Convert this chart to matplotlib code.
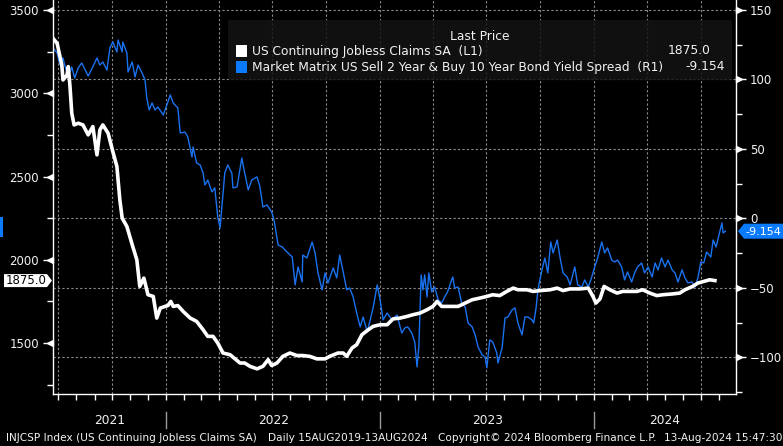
import matplotlib
matplotlib.use("Agg")
import matplotlib.pyplot as plt
import matplotlib.dates as mdates
import matplotlib.transforms as mtransforms
from matplotlib.patches import Polygon, Rectangle, FancyBboxPatch
import pandas as pd

# US continuing jobless claims SA (thousands), left axis
claims_dates = [
    "2021-06-22", "2021-06-29", "2021-07-07", "2021-07-09", "2021-07-16", "2021-07-18",
    "2021-07-21", "2021-07-24", "2021-07-28", "2021-08-04", "2021-08-12", "2021-08-21",
    "2021-08-29", "2021-09-05", "2021-09-10", "2021-09-15", "2021-09-24", "2021-10-02",
    "2021-10-09", "2021-10-14", "2021-10-18", "2021-10-26", "2021-11-05", "2021-11-12",
    "2021-11-17", "2021-11-24", "2021-12-01", "2021-12-10", "2021-12-16", "2021-12-22",
    "2021-12-30", "2022-01-04", "2022-01-09", "2022-01-13", "2022-01-21", "2022-01-30",
    "2022-02-11", "2022-02-22", "2022-03-05", "2022-03-13", "2022-03-22", "2022-03-30",
    "2022-04-08", "2022-04-20", "2022-05-07", "2022-05-15", "2022-05-24", "2022-06-05",
    "2022-06-15", "2022-06-24", "2022-06-30", "2022-07-09", "2022-07-19", "2022-07-31",
    "2022-08-12", "2022-08-22", "2022-09-03", "2022-09-15", "2022-09-29", "2022-10-07",
    "2022-10-21", "2022-10-30", "2022-11-05", "2022-11-14", "2022-11-22", "2022-12-01",
    "2022-12-10", "2022-12-20", "2023-01-01", "2023-01-13", "2023-01-23", "2023-02-04",
    "2023-02-16", "2023-02-26", "2023-03-10", "2023-03-22", "2023-04-01", "2023-04-08",
    "2023-04-16", "2023-04-25", "2023-05-14", "2023-05-26", "2023-06-07", "2023-06-20",
    "2023-07-02", "2023-07-12", "2023-07-24", "2023-08-05", "2023-08-16", "2023-08-24",
    "2023-09-08", "2023-09-19", "2023-10-01", "2023-10-18", "2023-10-30", "2023-11-09",
    "2023-11-21", "2023-12-08", "2023-12-22", "2023-12-30", "2024-01-04", "2024-01-11",
    "2024-01-18", "2024-01-28", "2024-02-09", "2024-02-19", "2024-03-02", "2024-03-14",
    "2024-03-24", "2024-04-05", "2024-04-17", "2024-04-27", "2024-05-14", "2024-05-26",
    "2024-06-04", "2024-06-17", "2024-06-26", "2024-07-04", "2024-07-16", "2024-07-25",
]
claims_values = [
    3330, 3300, 3170, 3080, 3110, 3160,
    3040, 2880, 2810, 2820, 2810, 2750,
    2800, 2630, 2780, 2810, 2760, 2650,
    2560, 2360, 2250, 2200, 2080, 2000,
    1840, 1890, 1790, 1780, 1650, 1710,
    1720, 1725, 1750, 1720, 1725, 1690,
    1650, 1630, 1580, 1540, 1540, 1500,
    1440, 1430, 1380, 1380, 1360, 1345,
    1360, 1400, 1365, 1380, 1420, 1440,
    1425, 1425, 1420, 1405, 1405, 1420,
    1440, 1440, 1420, 1470, 1490, 1550,
    1575, 1600, 1610, 1610, 1645, 1650,
    1660, 1670, 1680, 1700, 1720, 1750,
    1720, 1720, 1720, 1740, 1760, 1770,
    1780, 1790, 1785, 1810, 1830, 1820,
    1820, 1810, 1815, 1820, 1830, 1815,
    1825, 1825, 1830, 1780, 1740, 1765,
    1840, 1820, 1800, 1810, 1810, 1810,
    1820, 1800, 1785, 1790, 1795, 1800,
    1820, 1840, 1860, 1868, 1880, 1875.0,
]

# 2y/10y yield spread (bp), right axis
spread_dates = [
    "2021-06-22", "2021-06-29", "2021-07-04", "2021-07-09", "2021-07-12", "2021-07-18",
    "2021-07-24", "2021-07-29", "2021-08-04", "2021-08-10", "2021-08-16", "2021-08-21",
    "2021-08-28", "2021-09-05", "2021-09-10", "2021-09-15", "2021-09-22", "2021-09-27",
    "2021-10-02", "2021-10-09", "2021-10-11", "2021-10-18", "2021-10-19", "2021-10-26",
    "2021-10-28", "2021-11-04", "2021-11-09", "2021-11-14", "2021-11-21", "2021-11-26",
    "2021-11-29", "2021-12-03", "2021-12-08", "2021-12-13", "2021-12-18", "2021-12-27",
    "2022-01-04", "2022-01-08", "2022-01-13", "2022-01-21", "2022-01-25", "2022-02-02",
    "2022-02-07", "2022-02-14", "2022-02-16", "2022-02-22", "2022-02-28", "2022-03-05",
    "2022-03-08", "2022-03-13", "2022-03-20", "2022-03-25", "2022-03-30", "2022-04-03",
    "2022-04-11", "2022-04-16", "2022-04-23", "2022-04-25", "2022-05-02", "2022-05-10",
    "2022-05-15", "2022-05-21", "2022-05-27", "2022-06-05", "2022-06-10", "2022-06-15",
    "2022-06-22", "2022-06-30", "2022-07-04", "2022-07-11", "2022-07-18", "2022-07-26",
    "2022-08-04", "2022-08-09", "2022-08-14", "2022-08-21", "2022-08-22", "2022-08-29",
    "2022-09-07", "2022-09-12", "2022-09-17", "2022-09-24", "2022-09-29", "2022-10-04",
    "2022-10-13", "2022-10-19", "2022-10-24", "2022-10-30", "2022-11-05", "2022-11-10",
    "2022-11-16", "2022-11-22", "2022-11-28", "2022-12-03", "2022-12-10", "2022-12-15",
    "2022-12-20", "2022-12-27", "2023-01-01", "2023-01-06", "2023-01-13", "2023-01-21",
    "2023-01-30", "2023-02-04", "2023-02-07", "2023-02-12", "2023-02-17", "2023-02-24",
    "2023-03-01", "2023-03-05", "2023-03-08", "2023-03-12", "2023-03-15", "2023-03-18",
    "2023-03-22", "2023-03-25", "2023-03-30", "2023-04-04", "2023-04-10", "2023-04-16",
    "2023-04-21", "2023-04-26", "2023-05-03", "2023-05-05", "2023-05-08", "2023-05-14",
    "2023-05-20", "2023-05-26", "2023-05-31", "2023-06-07", "2023-06-12", "2023-06-17",
    "2023-06-24", "2023-06-29", "2023-07-02", "2023-07-07", "2023-07-12", "2023-07-19",
    "2023-07-21", "2023-07-28", "2023-08-02", "2023-08-07", "2023-08-14", "2023-08-19",
    "2023-08-24", "2023-08-31", "2023-09-05", "2023-09-10", "2023-09-17", "2023-09-20",
    "2023-09-24", "2023-09-27", "2023-10-04", "2023-10-09", "2023-10-14", "2023-10-19",
    "2023-10-23", "2023-10-30", "2023-11-04", "2023-11-09", "2023-11-16", "2023-11-21",
    "2023-11-29", "2023-12-04", "2023-12-11", "2023-12-16", "2023-12-22", "2023-12-28",
    "2024-01-02", "2024-01-07", "2024-01-14", "2024-01-19", "2024-01-24", "2024-01-31",
    "2024-02-05", "2024-02-10", "2024-02-17", "2024-02-22", "2024-02-27", "2024-03-05",
    "2024-03-10", "2024-03-15", "2024-03-22", "2024-03-27", "2024-04-02", "2024-04-09",
    "2024-04-14", "2024-04-19", "2024-04-25", "2024-05-01", "2024-05-06", "2024-05-13",
    "2024-05-18", "2024-05-23", "2024-05-30", "2024-06-04", "2024-06-09", "2024-06-16",
    "2024-06-21", "2024-06-26", "2024-07-01", "2024-07-06", "2024-07-11", "2024-07-18",
    "2024-07-22", "2024-07-27", "2024-08-01", "2024-08-06", "2024-08-08", "2024-08-12",
]
spread_values = [
    122.7, 119.1, 110.4, 115.5, 110.4, 101.8,
    109.0, 101.1, 108.3, 111.9, 106.8, 102.5,
    108.3, 115.5, 110.4, 112.6, 106.8, 122.7,
    127.0, 119.8, 128.4, 119.8, 127.0, 119.1,
    105.4, 112.6, 101.8, 110.4, 104.7, 99.6,
    86.7, 78.1, 83.1, 78.1, 80.2, 74.5,
    83.8, 88.9, 83.1, 79.5, 61.5, 62.2,
    58.6, 44.2, 51.4, 39.9, 38.5, 32.7,
    24.1, 27.7, 19.1, 22.0, 1.1, -6.8,
    32.7, 38.5, 32.7, 22.0, 22.7, 43.5,
    32.7, 20.5, 27.7, 29.9, 22.7, 8.3,
    9.7, 4.7, -1.1, -19.1, -20.5, -24.1,
    -27.7, -47.8, -34.9, -45.7, -26.3, -28.4,
    -16.9, -24.8, -39.2, -51.4, -39.2, -46.4,
    -35.6, -42.8, -26.3, -38.5, -51.4, -50.0,
    -56.5, -68.0, -78.0, -70.9, -81.6, -73.0,
    -64.4, -47.8, -58.6, -73.0, -68.0, -73.0,
    -69.4, -78.0, -82.4, -78.8, -78.0, -82.4,
    -88.8, -106.8, -92.4, -40.6, -51.4, -40.6,
    -56.5, -39.2, -52.9, -49.3, -58.6, -60.8,
    -56.5, -52.9, -44.2, -42.1, -50.0, -49.3,
    -60.8, -63.7, -75.2, -78.0, -83.8, -92.4,
    -98.2, -99.6, -107.5, -87.4, -88.8, -96.8,
    -104.0, -93.2, -71.6, -70.9, -65.8, -64.4,
    -75.2, -83.8, -70.9, -70.9, -73.0, -75.2,
    -64.4, -51.4, -37.0, -28.4, -39.2, -16.9,
    -24.8, -15.5, -28.4, -39.2, -42.1, -47.8,
    -34.9, -47.8, -49.3, -44.2, -49.3, -42.1,
    -34.9, -28.4, -16.9, -24.8, -21.2, -29.9,
    -31.3, -29.9, -34.9, -44.2, -38.5, -45.7,
    -39.2, -34.9, -32.0, -39.2, -34.9, -42.1,
    -32.0, -37.0, -28.4, -34.9, -29.9, -37.0,
    -39.2, -45.7, -37.0, -42.8, -46.4, -45.7,
    -49.3, -42.8, -31.3, -32.0, -24.1, -27.7,
    -15.5, -20.5, -11.9, -3.2, -10.4, -9.154,
]

left_major = [1500, 2000, 2500, 3000, 3500]
left_minor = [1250, 1750, 2250, 2750, 3250]
right_major = [-100, -50, 0, 50, 100, 150]
right_minor = [-125, -75, -25, 25, 75, 125]
years = [2021, 2022, 2023, 2024]

claims_label = "US Continuing Jobless Claims SA  (L1)"
spread_label = "Market Matrix US Sell 2 Year & Buy 10 Year Bond Yield Spread  (R1)"

W, H = 783, 446
BLUE = "#1a72f0"
TAG_BLUE = "#0a7bff"
TXT = "#f2f2f2"
GRID = "#8c8c8c"
FS = 8.5      # ticks / years
FS_LEG = 8.8  # legend rows
FS_FOOT = 7.6  # footer line


def fx(px):
    return px / W


def fy(py):
    return 1 - py / H


fig = plt.figure(figsize=(W / 100, H / 100), dpi=100, facecolor="black")
ax = fig.add_axes([fx(53), fy(394), fx(683), 394 / H])
ax2 = ax.twinx()
ax.set_zorder(3)
ax.patch.set_visible(False)

claims_dt = pd.to_datetime(claims_dates)
spread_dt = pd.to_datetime(spread_dates)

x0, x1 = pd.Timestamp("2021-06-22"), pd.Timestamp("2024-08-30")
ax.set_xlim(x0, x1)
ax.set_ylim(1194, 3560)
ax2.set_ylim(-126.3, 157.2)

# grid (on the back axes so both lines sit on top)
ax2.set_yticks(right_major)
ax2.set_yticks(right_minor, minor=True)
ax2.grid(axis="y", which="major", color=GRID, linestyle=(0, (2, 2)), lw=0.8)
for d in pd.date_range("2021-07-01", "2024-07-01", freq="QS"):
    ax2.axvline(d, color=GRID, linestyle=(0, (2, 2)), lw=0.8, zorder=0.5)

ax2.plot(spread_dt, spread_values, color=BLUE, lw=1.0, zorder=2)
ax.plot(claims_dt, claims_values, color="white", lw=2.6, solid_joinstyle="round", zorder=3)

# spines
for s in ["top", "right"]:
    ax.spines[s].set_visible(False)
for s in ["top", "left", "bottom"]:
    ax2.spines[s].set_visible(False)
for sp in [ax.spines["left"], ax.spines["bottom"], ax2.spines["right"]]:
    sp.set_color("white")
    sp.set_linewidth(1.0)

# y ticks
ax.set_yticks(left_major)
ax.set_yticks(left_minor, minor=True)
ax.tick_params(axis="y", which="major", length=7, width=1, color="white",
               labelcolor=TXT, labelsize=FS, pad=3)
ax.tick_params(axis="y", which="minor", length=4, width=1, color="white")
ax2.tick_params(axis="y", which="major", length=7, width=1, color="white",
                labelcolor=TXT, labelsize=FS, pad=3)
ax2.tick_params(axis="y", which="minor", length=4, width=1, color="white")

# little triangles on the major ticks
tl = mtransforms.blended_transform_factory(ax.transAxes, ax.transData) + \
    mtransforms.ScaledTranslation(-3 / 100, 0, fig.dpi_scale_trans)
ax.plot([0] * len(left_major), left_major, linestyle="none", marker="<", ms=4.5,
        color="white", transform=tl, clip_on=False)
tr = mtransforms.blended_transform_factory(ax2.transAxes, ax2.transData) + \
    mtransforms.ScaledTranslation(3 / 100, 0, fig.dpi_scale_trans)
ax2.plot([1] * len(right_major), right_major, linestyle="none", marker=">", ms=4.5,
         color="white", transform=tr, clip_on=False)

# x axis: monthly ticks, year labels below
ax.xaxis.set_major_locator(mdates.MonthLocator())
ax.tick_params(axis="x", which="major", length=4, width=1, color="white", labelbottom=False)
ax2.tick_params(axis="x", which="both", length=0, labelbottom=False)

bt = mtransforms.blended_transform_factory(ax.transData, ax.transAxes)
for yr in years:
    a = max(x0, pd.Timestamp(f"{yr}-01-01"))
    b = min(x1, pd.Timestamp(f"{yr + 1}-01-01"))
    mid = a + (b - a) / 2
    ax.text(mid, -27 / 394, str(yr), transform=bt, ha="center", va="center",
            color=TXT, fontsize=FS + 0.3)
    if yr > years[0]:
        d = pd.Timestamp(f"{yr}-01-01")
        ax.plot([d, d], [-18 / 394, -34 / 394], transform=bt, color="#9a9a9a",
                lw=1, clip_on=False)

# legend box
fig.add_artist(FancyBboxPatch((fx(228), fy(80)), fx(504), 60 / H,
                              boxstyle="round,pad=0,rounding_size=0.004",
                              transform=fig.transFigure, fc="#141414", ec="none",
                              alpha=0.85, zorder=10))
fig.text(fx(480), fy(36), "Last Price", ha="center", va="center", color=TXT,
         fontsize=FS_LEG, zorder=11)
fig.add_artist(Rectangle((fx(236), fy(57)), fx(11), 12 / H, transform=fig.transFigure,
                         fc="white", ec="none", zorder=11))
fig.add_artist(Rectangle((fx(236), fy(73)), fx(11), 12 / H, transform=fig.transFigure,
                         fc=TAG_BLUE, ec="none", zorder=11))
fig.text(fx(252), fy(51), claims_label, ha="left", va="center", color=TXT,
         fontsize=FS_LEG, zorder=11)
fig.text(fx(252), fy(67), spread_label, ha="left", va="center", color=TXT,
         fontsize=FS_LEG, zorder=11)
fig.text(fx(711), fy(51), f"{claims_values[-1]:.1f}", ha="right", va="center",
         color=TXT, fontsize=FS_LEG, zorder=11)
fig.text(fx(725), fy(67), f"{spread_values[-1]:.3f}", ha="right", va="center",
         color=TXT, fontsize=FS_LEG, zorder=11)

# last value tags at the axes
ident = mtransforms.IdentityTransform()
yl = ax.transData.transform((0, claims_values[-1]))[1]
fig.add_artist(Polygon([(4, yl - 6.5), (47, yl - 6.5), (52, yl), (47, yl + 6.5), (4, yl + 6.5)],
                       closed=True, fc="white", ec="none", transform=ident, zorder=12))
fig.text(fx(26), yl / H, f"{claims_values[-1]:.1f}", ha="center", va="center",
         color="black", fontsize=FS, zorder=13)

yr_ = ax2.transData.transform((0, spread_values[-1]))[1]
fig.add_artist(Polygon([(738, yr_), (744, yr_ - 7.5), (W, yr_ - 7.5), (W, yr_ + 7.5), (744, yr_ + 7.5)],
                       closed=True, fc=TAG_BLUE, ec="none", transform=ident, zorder=12))
fig.text(fx(745), (yr_ - 1) / H, f"{spread_values[-1]:.3f}", ha="left", va="center",
         color="white", fontsize=8, zorder=13)
fig.add_artist(Rectangle((0, yr_ - 6), 3, 20, fc=TAG_BLUE, ec="none",
                         transform=ident, zorder=12))

# footer
fig.text(fx(6), fy(438), "INJCSP Index (US Continuing Jobless Claims SA)", ha="left",
         va="center", color=TXT, fontsize=FS_FOOT)
fig.text(fx(268), fy(438), "Daily 15AUG2019-13AUG2024", ha="left", va="center",
         color=TXT, fontsize=FS_FOOT)
fig.text(fx(438), fy(438), "Copyright\u00a9 2024 Bloomberg Finance L.P.", ha="left",
         va="center", color=TXT, fontsize=FS_FOOT)
fig.text(fx(782), fy(438), "13-Aug-2024 15:47:30", ha="right", va="center",
         color=TXT, fontsize=FS_FOOT)

fig.savefig("out.png", dpi=100, facecolor="black")
